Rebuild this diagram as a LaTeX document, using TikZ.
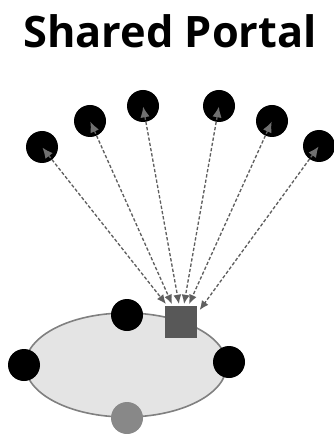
\documentclass[tikz,border=0pt]{standalone}
\usepackage{fontspec}
\setsansfont{Open Sans}
\usepackage{tikz}
\usetikzlibrary{arrows.meta,shapes.geometric}
\definecolor{portalgray}{RGB}{88,88,88}
\definecolor{linkgray}{RGB}{95,95,95}
\definecolor{tipgray}{RGB}{112,112,112}
\definecolor{poolfill}{RGB}{228,228,228}
\definecolor{pooledge}{RGB}{128,128,128}
\definecolor{guestgray}{RGB}{136,136,136}
\tikzset{
    agent/.style={circle, fill=black, minimum size=24pt, inner sep=0pt},
    guest/.style={circle, fill=guestgray, minimum size=24pt, inner sep=0pt},
    portal/.style={rectangle, fill=portalgray, minimum size=23.5pt, inner sep=0pt},
    pool/.style={ellipse, draw=pooledge, line width=1.2pt, fill=poolfill,
        minimum width=151pt, minimum height=78pt, inner sep=0pt},
    link/.style={draw=linkgray, line width=1pt, dash pattern=on 2.5pt off 1.5pt,
        {Latex[length=8pt,width=7pt,color=tipgray]}-{Latex[length=7pt,width=6pt]},
        shorten <=0.5pt}
}

\begin{document}
\begin{tikzpicture}[x=0.75pt, y=-0.75pt]
        \useasboundingbox (0,0) rectangle (333,434);

        \node[font=\sffamily\bfseries\fontsize{32.5}{38}\selectfont] (title)
            at (170,31) {Shared Portal};

        % the pool and who sits on it
        \node[pool] (ring) at (126,365) {};
        \node[portal] (hub) at (181,322) {};
        \node[agent] (top) at (127,315) {};
        \node[agent] (left) at (24,365) {};
        \node[agent] (right) at (229,362) {};
        \node[guest] (bottom) at (127,418) {};

        % outside peers
        \node[agent] (peer1) at (42,147) {};
        \node[agent] (peer2) at (90,121) {};
        \node[agent] (peer3) at (143,106) {};
        \node[agent] (peer4) at (219,106) {};
        \node[agent] (peer5) at (272,121) {};
        \node[agent] (peer6) at (319,146) {};

        \foreach \i/\dx in {1/-15, 2/-9, 3/-2, 4/3, 5/8} {
            \coordinate (gate\i) at ([xshift=\dx*0.75pt, yshift=1.5pt]hub.north);
            \draw[link] (peer\i.center) -- (gate\i);
        }
        \coordinate (gate6) at ([xshift=2pt, yshift=-3pt]hub.north east);
        \draw[link] (peer6.center) -- (gate6);
    \end{tikzpicture}
\end{document}
